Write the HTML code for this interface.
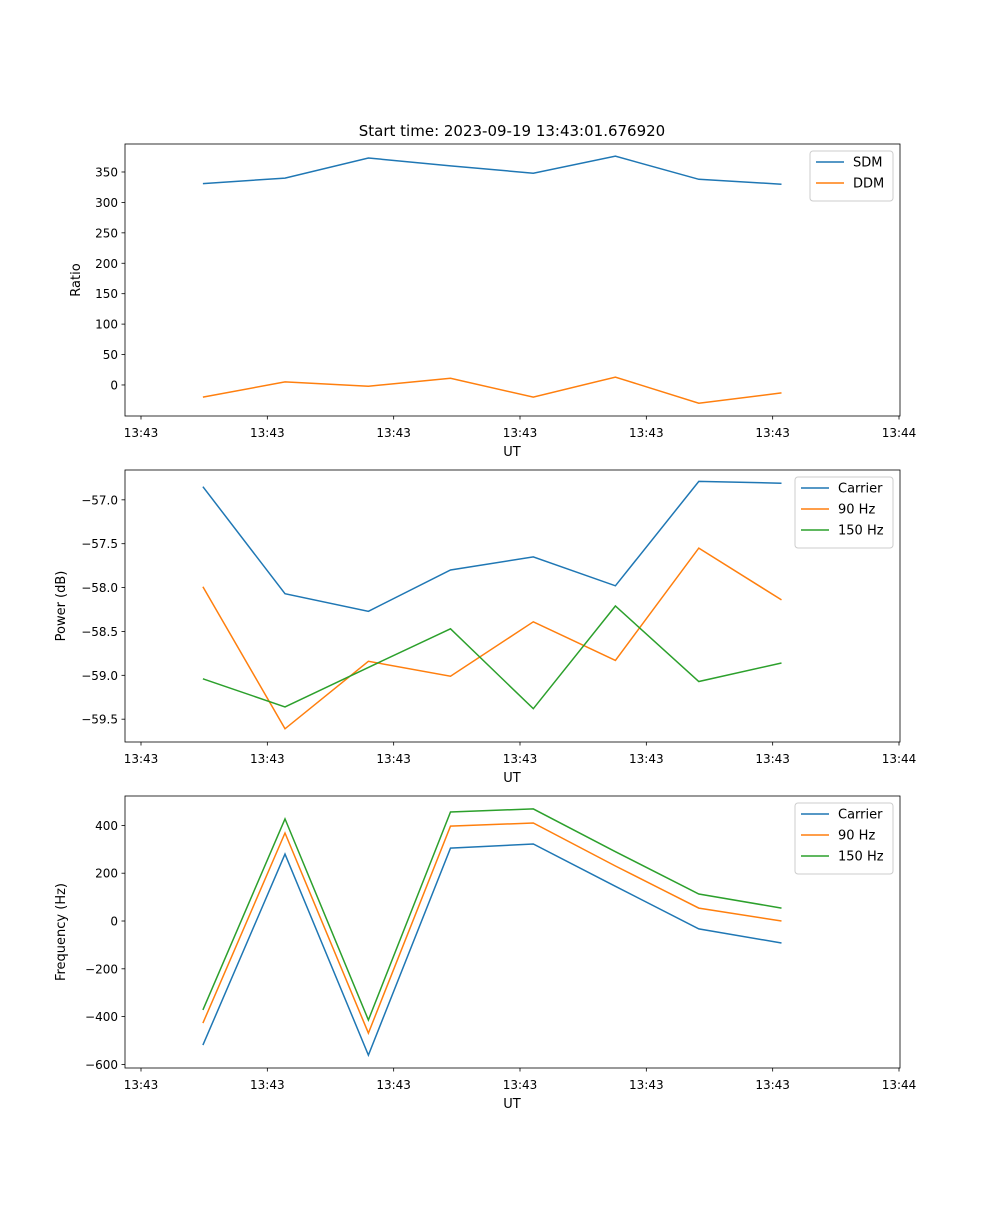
<!DOCTYPE html>
<html><head><meta charset="utf-8"><style>
body{margin:0;background:#fff}
svg text{font-family:"DejaVu Sans","Liberation Sans",sans-serif;fill:#000}
</style></head><body>
<svg id="fig" width="1000" height="1200" xmlns="http://www.w3.org/2000/svg">
<text x="512" y="136" font-size="15" text-anchor="middle">Start time: 2023-09-19 13:43:01.676920</text>
</svg>
<script>
const tickSec=[0,2,4,6,8,10,12];
const tickLabels=["13:43","13:43","13:43","13:43","13:43","13:43","13:44"];
const times=[0.98,2.28,3.60,4.90,6.21,7.51,8.83,10.14];
const sdm=[331,340,373,360,348,376,338,330];
const ddm=[-20,5,-2,11,-20,13,-30,-13];
const powCarrier=[-56.85,-58.07,-58.27,-57.80,-57.65,-57.98,-56.79,-56.81];
const pow90=[-57.99,-59.61,-58.84,-59.01,-58.39,-58.83,-57.55,-58.14];
const pow150=[-59.04,-59.36,-58.91,-58.47,-59.38,-58.21,-59.07,-58.86];
const freqCarrier=[-519,280,-561,305,322,145,-33,-92];
const freq90=[-427,368,-469,397,410,230,54,0];
const freq150=[-372,427,-414,456,469,290,113,54];
const ratioTicks=[0,50,100,150,200,250,300,350];
const powTicks=[-59.5,-59.0,-58.5,-58.0,-57.5,-57.0];
const freqTicks=[-600,-400,-200,0,200,400];
const C=["#1f77b4","#ff7f0e","#2ca02c"];
const svg=document.getElementById('fig');
const NS="http://www.w3.org/2000/svg";
function mk(tag,attrs,parent){const e=document.createElementNS(NS,tag);for(const k in attrs)e.setAttribute(k,attrs[k]);(parent||svg).appendChild(e);return e;}
const X0=125,X1=900;
const xs=t=>141+(t-0)*(899-141)/12;
function panel(name,top,bot,ymin,ymax,yTicks,fmt,ylabel,series,labels,legW){
  const g=mk('g',{});
  
  
  const ys=v=>bot-(v-ymin)*(bot-top)/(ymax-ymin);
  series.forEach((s,i)=>{
    const p=mk('polyline',{points:s.map((v,j)=>xs(times[j]).toFixed(1)+','+ys(v).toFixed(1)).join(' '),fill:'none',stroke:C[i],'stroke-width':1.5},g);
    
    
  });
  mk('rect',{x:X0,y:top,width:X1-X0,height:bot-top,fill:'none',stroke:'#000','stroke-width':0.8},g);
  tickSec.forEach((t,i)=>{
    const x=xs(t);
    mk('line',{x1:x,x2:x,y1:bot,y2:bot+3.5,stroke:'#000','stroke-width':0.8},g);
    const tx=mk('text',{x:x,y:bot+21,'font-size':12,'text-anchor':'middle'},g);tx.textContent=tickLabels[i];
    
    
  });
  yTicks.forEach(v=>{
    const y=ys(v);
    mk('line',{x1:X0-3.5,x2:X0,y1:y,y2:y,stroke:'#000','stroke-width':0.8},g);
    const tx=mk('text',{x:X0-7,y:y+4.5,'font-size':12,'text-anchor':'end'},g);tx.textContent=fmt(v);
    
    
  });
  const xl=mk('text',{x:512,y:bot+40,'font-size':13,'text-anchor':'middle'},g);xl.textContent='UT';
  
  
  const lx=name==='ratio'?80:65;
  const yl=mk('text',{x:lx,y:(top+bot)/2,'font-size':13,'text-anchor':'middle',transform:`rotate(-90 ${lx} ${(top+bot)/2})`},g);yl.textContent=ylabel;
  
  
  const lg=mk('g',{},g);
  
  
  const lw=legW,lxx=X1-7-lw,ly=top+7,lh=8+labels.length*21;
  mk('rect',{x:lxx,y:ly,width:lw,height:lh,rx:3,fill:'#fff',stroke:'#ccc','stroke-width':1},lg);
  labels.forEach((l,i)=>{
    const yy=ly+11+i*21;
    mk('line',{x1:lxx+6,x2:lxx+34,y1:yy,y2:yy,stroke:C[i],'stroke-width':1.5},lg);
    const t=mk('text',{x:lxx+43,y:yy+4.5,'font-size':13},lg);t.textContent=l;
    
    
  });
}
panel('ratio',144,416,-51,396,ratioTicks,v=>v<0?'\u2212'+(-v):''+v,'Ratio',[sdm,ddm],['SDM','DDM'],83);
panel('power',470,742,-59.76,-56.66,powTicks,v=>'\u2212'+(-v).toFixed(1),'Power (dB)',[powCarrier,pow90,pow150],['Carrier','90 Hz','150 Hz'],98);
panel('frequency',796,1068,-615,523,freqTicks,v=>v<0?'\u2212'+(-v):''+v,'Frequency (Hz)',[freqCarrier,freq90,freq150],['Carrier','90 Hz','150 Hz'],98);
</script>
</body></html>
